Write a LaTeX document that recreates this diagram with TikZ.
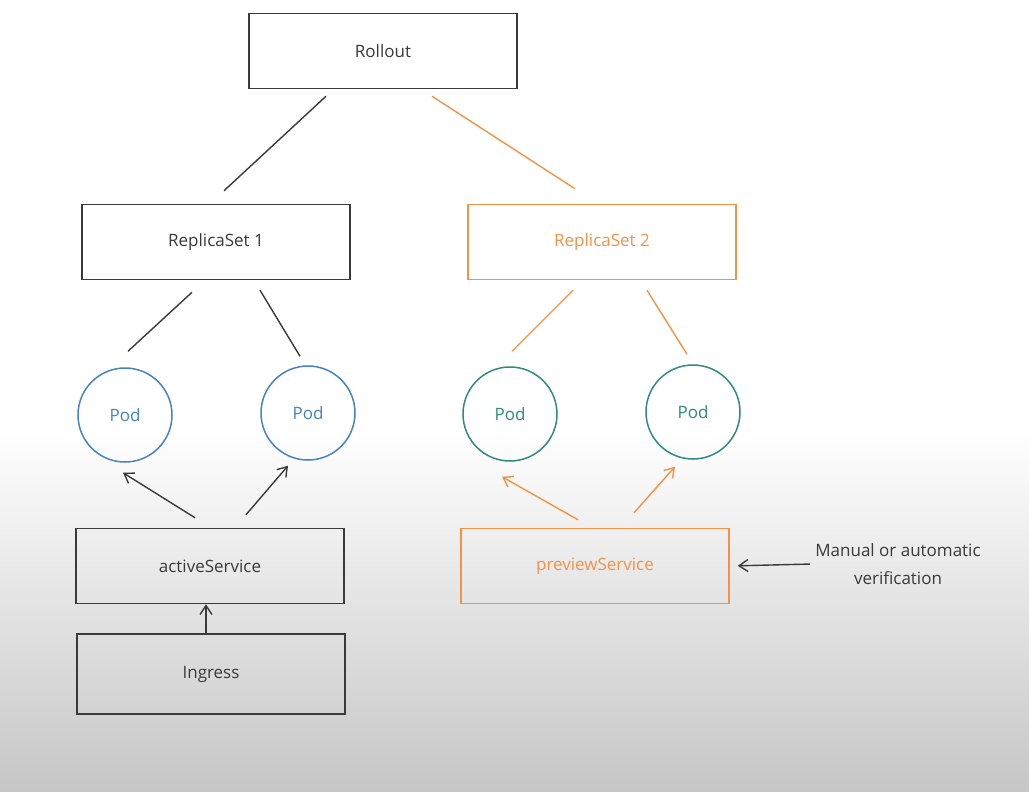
\documentclass[tikz,border=0pt]{standalone}
\usepackage{fontspec}
\setmainfont{Open Sans}
\usetikzlibrary{arrows.meta}
\definecolor{inkgray}{HTML}{3A3A3A}
\definecolor{inkorange}{HTML}{F39245}
\definecolor{inkblue}{HTML}{4683C2}
\definecolor{inkgreen}{HTML}{2F8C7A}
\definecolor{fadegray}{HTML}{C6C6C6}

\begin{document}
\begin{tikzpicture}[x=1pt,y=-1pt]
		\tikzset{box/.style={draw=inkgray,text=inkgray,line width=1.5pt,minimum width=268pt,minimum height=75pt,font=\fontsize{17}{20}\selectfont}}
		\tikzset{pod/.style={circle,draw=#1,text=#1,line width=1.5pt,minimum size=94pt,font=\fontsize{17}{20}\selectfont}}
		\tikzset{link/.style={draw=#1,line width=1.4pt}}
		\tikzset{feed/.style={draw=#1,line width=1.4pt,-{Straight Barb[length=9pt,width=12pt]}}}
		% background, white fading to gray
		\fill[white] (0,0) rectangle (1029,792);
		\shade[top color=white,bottom color=fadegray] (0,430) rectangle (1029,792);
		\useasboundingbox (0,0) rectangle (1029,792);
		% boxes
		\node[box] (rollout) at (383,51) {Rollout};
		\node[box] (rsone) at (216,242) {ReplicaSet 1};
		\node[box,draw=inkorange,text=inkorange] (rstwo) at (602,242) {ReplicaSet 2};
		\node[box] (active) at (210,566) {activeService};
		\node[box,minimum height=80pt] (ingress) at (211,674) {Ingress};
		\node[box,draw=inkorange,text=inkorange] (preview) at (595,566) {previewService};
		% pods
		\node[pod=inkblue] (podone) at (125,415) {Pod};
		\node[pod=inkblue] (podtwo) at (308,413) {Pod};
		\node[pod=inkgreen] (podthree) at (510,414) {Pod};
		\node[pod=inkgreen] (podfour) at (693,412) {Pod};
		\node[align=center,text=inkgray,font=\fontsize{17}{28}\selectfont] (verify) at (898,564) {Manual or automatic\\verification};
		% ownership lines
		\draw[link=inkgray] ([xshift=-57pt,yshift=-7pt]rollout.south) -- ([xshift=8pt,yshift=13pt]rsone.north);
		\draw[link=inkorange] ([xshift=49pt,yshift=-7pt]rollout.south) -- ([xshift=-27pt,yshift=15pt]rstwo.north);
		\draw[link=inkgray] ([xshift=-24pt,yshift=-12pt]rsone.south) -- ([xshift=3pt,yshift=16pt]podone.north);
		\draw[link=inkgray] ([xshift=44pt,yshift=-10pt]rsone.south) -- ([xshift=-8pt,yshift=9pt]podtwo.north);
		\draw[link=inkorange] ([xshift=-29pt,yshift=-10pt]rstwo.south) -- ([xshift=2pt,yshift=15pt]podthree.north);
		\draw[link=inkorange] ([xshift=45pt,yshift=-10pt]rstwo.south) -- ([xshift=-6pt,yshift=10pt]podfour.north);
		% traffic arrows
		\draw[feed=inkgray] ([xshift=-15pt,yshift=10pt]active.north) -- ([xshift=-2pt,yshift=-10pt]podone.south);
		\draw[feed=inkgray] ([xshift=36pt,yshift=13pt]active.north) -- ([xshift=-20pt,yshift=-5pt]podtwo.south);
		\draw[feed=inkorange] ([xshift=-17pt,yshift=8pt]preview.north) -- ([xshift=-8pt,yshift=-15pt]podthree.south);
		\draw[feed=inkorange] ([xshift=39pt,yshift=15pt]preview.north) -- ([xshift=-18pt,yshift=-7pt]podfour.south);
		\draw[feed=inkgray] ([xshift=-5pt]ingress.north) -- ([xshift=-4pt]active.south);
		\draw[feed=inkgray,shorten >=8pt,shorten <=2pt] (verify.west) -- (preview.east);
	\end{tikzpicture}
\end{document}
